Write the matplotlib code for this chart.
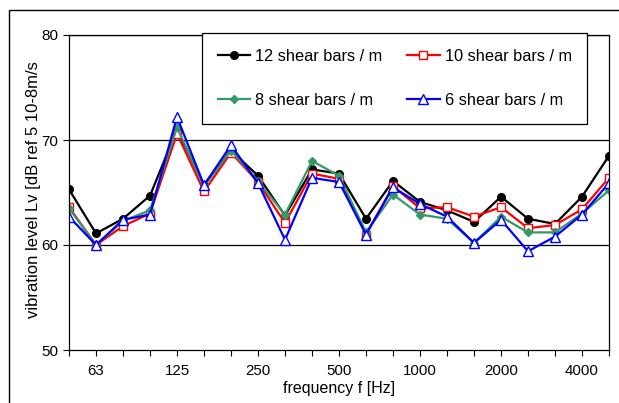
import matplotlib
matplotlib.use('Agg')
import matplotlib.pyplot as plt
from matplotlib.patches import Rectangle
import numpy as np

plt.rcParams['font.family'] = ['Liberation Sans', 'DejaVu Sans']

# 1/3 octave bands, 50 Hz .. 5000 Hz
freqs = ["50", "63", "80", "100", "125", "160", "200", "250", "315", "400", "500",
         "630", "800", "1000", "1250", "1600", "2000", "2500", "3150", "4000", "5000"]
shown_labels = ["63", "125", "250", "500", "1000", "2000", "4000"]

bars12 = [65.3, 61.1, 62.5, 64.7, 71.0, 65.7, 69.0, 66.6, 62.8, 67.2, 66.8,
          62.5, 66.1, 64.1, 63.3, 62.2, 64.6, 62.5, 62.0, 64.6, 68.5]
bars10 = [63.6, 60.0, 61.8, 63.0, 70.6, 65.1, 68.8, 66.0, 62.1, 66.8, 66.3,
          61.0, 65.6, 63.5, 63.6, 62.7, 63.6, 61.6, 61.9, 63.4, 66.4]
bars8 = [63.5, 60.0, 62.3, 63.3, 71.2, 65.6, 69.0, 66.1, 62.9, 68.0, 66.6,
         61.2, 64.8, 62.9, 62.5, 60.2, 62.7, 61.2, 61.2, 63.0, 65.2]
bars6 = [62.7, 60.0, 62.4, 62.9, 72.2, 65.7, 69.5, 65.9, 60.5, 66.4, 66.0,
         61.0, 65.5, 63.9, 62.7, 60.2, 62.4, 59.4, 60.8, 62.9, 65.9]

x = np.arange(len(freqs))

fig = plt.figure(figsize=(6.19, 4.03), dpi=100)
ax = fig.add_axes([69 / 619, 1 - 350 / 403, 540 / 619, 315 / 403])

# outer frame (right and bottom edges fall outside the picture)
fig.patches.append(Rectangle((9 / 619, -0.05), 1.0, 1.05 - 10 / 403, transform=fig.transFigure,
                             fill=False, edgecolor='black', linewidth=1.0))

l12, = ax.plot(x, bars12, color='black', lw=1.6, marker='o', ms=5.5,
               mfc='black', mec='black', label='12 shear bars / m')
l10, = ax.plot(x, bars10, color='#FF0000', lw=1.6, marker='s', ms=5.5,
               mfc='white', mec='#FF0000', mew=1.0, label='10 shear bars / m')
l8, = ax.plot(x, bars8, color='#339966', lw=1.6, marker='D', ms=4.5,
              mfc='#339966', mec='#339966', label='8 shear bars / m')
l6, = ax.plot(x, bars6, color='#0000FF', lw=1.6, marker='^', ms=6.5,
              mfc='white', mec='#0000FF', mew=1.0, label='6 shear bars / m')

ax.set_xlim(0, len(freqs) - 1)
ax.set_ylim(50, 80)
ax.set_yticks([50, 60, 70, 80])
for v in [60, 70, 80]:
    ax.axhline(v, color='black', lw=0.9, zorder=0)

ax.set_xticks(x)
ax.set_xticklabels([f if f in shown_labels else "" for f in freqs])
ax.tick_params(axis='both', direction='out', length=4, width=0.8)
ax.tick_params(axis='x', labelsize=10.8, pad=6)
ax.tick_params(axis='y', labelsize=11, pad=3.5)
for s in ax.spines.values():
    s.set_linewidth(0.9)

ax.set_xlabel('frequency f [Hz]', fontsize=11.5)
ax.xaxis.set_label_coords(0.5, -0.098)
ax.set_ylabel('vibration level Lv [dB ref 5 10-8m/s', fontsize=12)
ax.yaxis.set_label_coords(-0.051, 0.508)

leg = fig.legend([l12, l8, l10, l6], [l.get_label() for l in (l12, l8, l10, l6)],
                 ncol=2, loc='upper left', bbox_to_anchor=(202 / 619, 1 - 33 / 403),
                 fontsize=11.8, frameon=True, fancybox=False, framealpha=1,
                 edgecolor='black', handlelength=2.0, labelspacing=1.8,
                 columnspacing=1.5, borderpad=0.95, handletextpad=0.3,
                 borderaxespad=0)
leg.get_frame().set_linewidth(0.9)

fig.savefig('out.png', dpi=100)
